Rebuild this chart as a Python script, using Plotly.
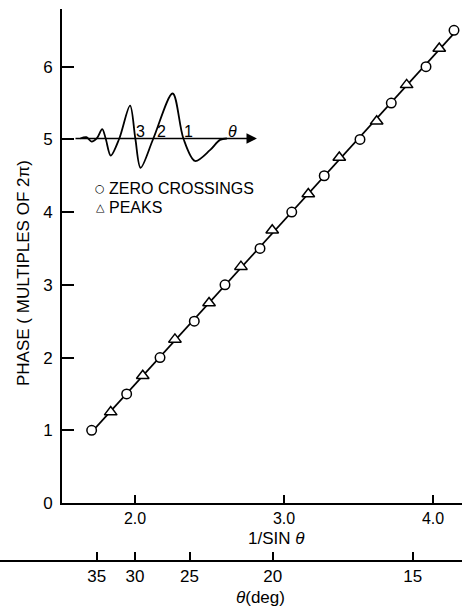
import numpy as np
import plotly.graph_objects as go

# ---- data ----
zero_x = [1.709, 1.944, 2.168, 2.398, 2.604, 2.839, 3.052, 3.270, 3.510, 3.720, 3.953, 4.141]
zero_phase = [1.0, 1.5, 2.0, 2.5, 3.0, 3.5, 4.0, 4.5, 5.0, 5.5, 6.0, 6.5]
peak_x = [1.837, 2.052, 2.268, 2.497, 2.711, 2.921, 3.163, 3.371, 3.622, 3.823, 4.042]
peak_phase = [1.25, 1.75, 2.25, 2.75, 3.25, 3.75, 4.25, 4.75, 5.25, 5.75, 6.25]

x_ticks = [2.0, 3.0, 4.0]
x_ticktext = ["2.0", "3.0", "4.0"]
y_ticks = [0, 1, 2, 3, 4, 5, 6]
theta_ticks_deg = [35, 30, 25, 20, 15]

# inset waveform (arbitrary time units, amplitude normalised to largest peak)
wave_t = [3.5, 6.8, 9.7, 12.5, 15.5, 17.4, 20.2, 24.9, 30.8, 33.7, 36.6, 43.6,
          54.2, 60.1, 66.5, 74.7, 80.2, 84.0]
wave_a = [0.0, 0.03, -0.07, 0.0, 0.21, 0.0, -0.38, 0.0, 0.73, 0.0, -0.65, 0.0,
          1.0, 0.0, -0.5, -0.26, -0.03, 0.0]
inset_labels = ["3", "2", "1", "<i>θ</i>"]
inset_label_t = [36.6, 48.2, 62.8, 87.2]

FONT = "Liberation Sans, Arial, sans-serif"
W, H = 462, 608
L, R, T, B = 62, 0, 9, 47
PW, PH = W - L - R, H - T - B

def py(p):  # pixel y -> paper
    return (H - B - p) / PH

def px(p):  # pixel x -> paper
    return (p - L) / PW

fig = go.Figure()

# fitted straight line through all points
all_x = np.array(zero_x + peak_x)
all_y = np.array(zero_phase + peak_phase)
k, c = np.polyfit(all_x, all_y, 1)
lx = np.array([min(all_x), max(all_x)])
fig.add_trace(go.Scatter(x=lx, y=k * lx + c, mode="lines",
                         line=dict(color="black", width=1.7), showlegend=False,
                         hoverinfo="skip"))

fig.add_trace(go.Scatter(x=peak_x, y=peak_phase, mode="markers", name="PEAKS",
                         marker=dict(symbol="triangle-up", size=11, color="white",
                                     line=dict(color="black", width=1.5)),
                         showlegend=False))
fig.add_trace(go.Scatter(x=zero_x, y=zero_phase, mode="markers", name="ZERO CROSSINGS",
                         marker=dict(symbol="circle", size=9.5, color="white",
                                     line=dict(color="black", width=1.5)),
                         showlegend=False))

# inset waveform
fig.add_trace(go.Scatter(x=wave_t, y=wave_a, mode="lines", xaxis="x3", yaxis="y3",
                         line=dict(color="black", width=1.8, shape="spline", smoothing=0.9),
                         showlegend=False, hoverinfo="skip"))

# theta axis tick positions through 1/sin
theta_pos = [1.0 / np.sin(np.deg2rad(d)) for d in theta_ticks_deg]

xr = [2 + (L - 135) / 149.0, 2 + (W - R - 135) / 149.0]
ytop = (503 - T) / 72.72

fig.update_layout(
    width=W, height=H, margin=dict(l=L, r=R, t=T, b=B),
    paper_bgcolor="white", plot_bgcolor="white",
    font=dict(family=FONT, color="black", size=16),
    xaxis=dict(range=xr, anchor="y", showline=True, linecolor="black", linewidth=1.8,
               ticks="inside", ticklen=8, tickwidth=1.5, tickcolor="black",
               tickvals=x_ticks, ticktext=x_ticktext, tickfont=dict(size=16),
               showgrid=False, zeroline=False, fixedrange=True),
    xaxis2=dict(range=xr, overlaying="x", anchor="free", position=0, side="bottom",
                showline=True, linecolor="black", linewidth=1.8,
                ticks="inside", ticklen=8, tickwidth=1.5, tickcolor="black",
                tickvals=theta_pos, ticktext=[str(d) for d in theta_ticks_deg],
                tickfont=dict(size=17), showgrid=False, zeroline=False),
    yaxis=dict(range=[0, ytop], domain=[py(503), 1], showline=True, linecolor="black",
               linewidth=1.8, ticks="inside", ticklen=12, tickwidth=1.5, tickcolor="black",
               tickvals=y_ticks, tickfont=dict(size=17), showgrid=False, zeroline=False,
               ticklabelstandoff=4),
    xaxis3=dict(domain=[px(74), px(256)], range=[0, 100], anchor="y3", visible=False),
    yaxis3=dict(domain=[py(178.5), py(78.5)], range=[-0.889, 1.333], anchor="x3",
                visible=False),
)

# dummy trace so xaxis2 is drawn
fig.add_trace(go.Scatter(x=[theta_pos[0]], y=[0], xaxis="x2", mode="markers",
                         marker=dict(opacity=0), showlegend=False, hoverinfo="skip"))

# left extension of theta axis line
fig.add_shape(type="line", xref="paper", yref="paper", x0=px(0), x1=0, y0=0, y1=0,
              line=dict(color="black", width=1.8))

ann = []
# inset axis arrow
ann.append(dict(x=100.5, y=0, ax=0, ay=0, xref="x3", yref="y3", axref="x3", ayref="y3",
                text="", showarrow=True, arrowhead=2, arrowsize=1.3, arrowwidth=1.6,
                arrowcolor="black"))
for t, s in zip(inset_label_t, inset_labels):
    ann.append(dict(x=t, y=0.151, xref="x3", yref="y3", text=s, showarrow=False,
                    font=dict(size=16), xanchor="center", yanchor="middle"))
# legend key
ann.append(dict(x=px(100), y=py(188), xref="paper", yref="paper", text="○",
                showarrow=False, font=dict(size=11, family="DejaVu Sans"),
                xanchor="center", yanchor="middle"))
ann.append(dict(x=px(100), y=py(207), xref="paper", yref="paper", text="△",
                showarrow=False, font=dict(size=11, family="DejaVu Sans"),
                xanchor="center", yanchor="middle"))
ann.append(dict(x=px(106.5), y=py(188), xref="paper", yref="paper", text="ZERO CROSSINGS",
                showarrow=False, font=dict(size=16), xanchor="left", yanchor="middle"))
ann.append(dict(x=px(106.5), y=py(207), xref="paper", yref="paper", text="PEAKS",
                showarrow=False, font=dict(size=16), xanchor="left", yanchor="middle"))
# axis titles
ann.append(dict(x=px(276), y=py(538), xref="paper", yref="paper", text="1/SIN <i>θ</i>",
                showarrow=False, font=dict(size=17), xanchor="center", yanchor="middle"))
ann.append(dict(x=px(260), y=py(597), xref="paper", yref="paper", text="<i>θ</i>(deg)",
                showarrow=False, font=dict(size=17), xanchor="center", yanchor="middle"))
ann.append(dict(x=px(23), y=py(273), xref="paper", yref="paper",
                text="PHASE ( MULTIPLES OF 2π)", textangle=-90,
                showarrow=False, font=dict(size=17), xanchor="center", yanchor="middle"))
fig.update_layout(annotations=ann)

fig.write_html("out.html")
